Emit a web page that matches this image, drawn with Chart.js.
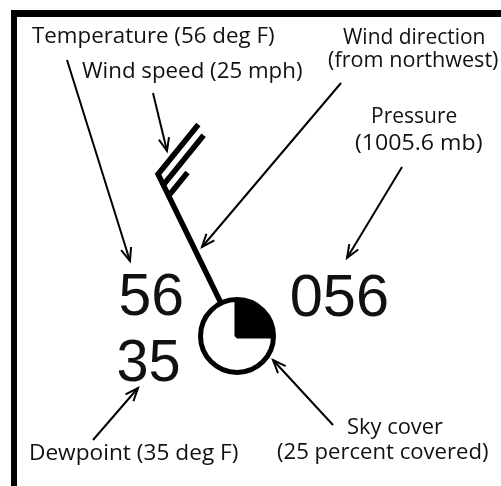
<!DOCTYPE html>
<html>
<head>
<meta charset="utf-8">
<script src="https://cdn.jsdelivr.net/npm/chart.js@4"></script>
<style>
body{margin:0;background:#fff;}
#wrap{position:relative;width:501px;height:486px;}
#model{position:absolute;left:0;top:0;}
#sky{position:absolute;left:198px;top:297px;}
</style>
</head>
<body>
<div id="wrap">
<canvas id="model" width="501" height="486"></canvas>
<canvas id="sky" width="78" height="78"></canvas>
</div>
<script>

// STATION VALUES

const temperatureF = 56;
const dewpointF = 35;
const pressureMb = 1005.6;
const windSpeedMph = 25;
const windFromDeg = 334;          // staff angle as drawn (northwest)
const skyCover = [25, 75];        // covered / clear

// LABELS

const labelLines = [
"Temperature (56 deg F)",
"Wind speed (25 mph)",
"Wind direction",
"(from northwest)",
"Pressure",
"(1005.6 mb)",
"Sky cover",
"(25 percent covered)",
"Dewpoint (35 deg F)"
];

// LAYOUT (ink left, ink right, baseline)

const labelBoxes = [
[32,274,43],
[82,302,78],
[343,484,44],
[328,498,67],
[373,457,123],
[355,482,150],
[348,443,434],
[277,488,459],
[31,238,460]
];

const station = [237,336];
const staffLen = 180;
const barbGap = 12;
const barbLen = 64;
const barbAngle = 65;

// arrows: from -> to
const arrowPaths = [
[[67,60],[130,261]],
[[153,93],[167,151]],
[[341,83],[202,247]],
[[402,167],[347,258]],
[[93,440],[138,388]],
[[333,425],[273,360]]
];

// pressure code: last three digits of tenths
let pressureCode =
String(Math.round(pressureMb*10)%1000).padStart(3,"0");

const numberBoxes = [
[String(temperatureF),120.5,181.7,315],
[pressureCode,291.7,386.7,316],
[String(dewpointF),118.3,178.3,381]
];

// HELPERS

function dir(deg){
let r = deg*Math.PI/180;
return [Math.sin(r),-Math.cos(r)];
}

function pt(p){
return {x:p[0],y:p[1]};
}

function seg(points,width,join){
return {
data:points,
showLine:true,
borderColor:"#000",
borderWidth:width,
borderJoinStyle:join||"miter",
borderCapStyle:"butt",
pointRadius:0,
fill:false
};
}

// WIND STAFF + BARBS

let u = dir(windFromDeg);
let b = dir(windFromDeg+barbAngle);

function along(d){
return [station[0]+u[0]*d, station[1]+u[1]*d];
}

let fullBarbs = Math.floor(windSpeedMph/10);
let halfBarbs = (windSpeedMph%10)>=5 ? 1 : 0;

let tip = along(staffLen);
let datasets = [];

datasets.push(seg([
pt(along(36)),
pt(tip),
pt([tip[0]+b[0]*barbLen, tip[1]+b[1]*barbLen])
],5.5));

for(let i=1;i<fullBarbs+halfBarbs;i++){
let base = along(staffLen-barbGap*i);
let len = i<fullBarbs ? barbLen : barbLen*0.47;
datasets.push(seg([
pt(base),
pt([base[0]+b[0]*len, base[1]+b[1]*len])
],5.5));
}

// ARROWS

arrowPaths.forEach(function(a){
let f=a[0], t=a[1];
let dx=t[0]-f[0], dy=t[1]-f[1];
let L=Math.hypot(dx,dy);
let ux=dx/L, uy=dy/L;
let head=14, s=0.38;
function wing(s){
let c=Math.cos(s), n=Math.sin(s);
return [t[0]-head*(ux*c-uy*n), t[1]-head*(uy*c+ux*n)];
}
datasets.push(seg([pt(f),pt(t)],2));
datasets.push(seg([pt(wing(s)),pt(t),pt(wing(-s))],2));
});

// PLUGINS

const framePlugin = {
id:"frame",
beforeDraw(chart){
let ctx = chart.ctx;
ctx.save();
ctx.fillStyle="#fff";
ctx.fillRect(0,0,chart.width,chart.height);
ctx.fillStyle="#000";
ctx.fillRect(11,10,490,7);
ctx.fillRect(11,10,6,476);
ctx.restore();
}
};

function fitText(chart,text,box){
let ctx = chart.ctx;
let x1 = chart.scales.x.getPixelForValue(box[0]);
let x2 = chart.scales.x.getPixelForValue(box[1]);
let y = chart.scales.y.getPixelForValue(box[2]);
let m = ctx.measureText(text);
let ink = m.actualBoundingBoxLeft + m.actualBoundingBoxRight;
ctx.save();
ctx.translate(x1,y);
ctx.scale((x2-x1)/ink,1);
ctx.fillText(text,m.actualBoundingBoxLeft,0);
ctx.restore();
}

const textPlugin = {
id:"texts",
afterDatasetsDraw(chart){
let ctx = chart.ctx;
ctx.save();
ctx.fillStyle="#111";
ctx.textAlign="left";
ctx.textBaseline="alphabetic";
ctx.font="22px 'Open Sans'";
labelLines.forEach(function(t,i){
fitText(chart,t,labelBoxes[i]);
});
ctx.font="60px 'Liberation Sans'";
numberBoxes.forEach(function(n){
fitText(chart,n[0],[n[1],n[2],n[3]]);
});
ctx.restore();
}
};

// STATION CHART

new Chart(
document.getElementById("model"),
{
type:"scatter",
data:{datasets:datasets},
options:{
responsive:false,
animation:false,
events:[],
layout:{padding:0},
plugins:{
legend:{display:false},
tooltip:{enabled:false}
},
scales:{
x:{type:"linear",display:false,min:0,max:501},
y:{type:"linear",display:false,min:0,max:486,reverse:true}
}
},
plugins:[framePlugin,textPlugin]
}
);

// SKY COVER

new Chart(
document.getElementById("sky"),
{
type:"pie",
data:{
labels:["Covered","Clear"],
datasets:[{
data:skyCover,
backgroundColor:["#000","#fff"],
borderColor:"#000",
borderWidth:5
}]
},
options:{
responsive:false,
animation:false,
events:[],
layout:{padding:0},
plugins:{
legend:{display:false},
tooltip:{enabled:false}
}
}
}
);

</script>
</body>
</html>
